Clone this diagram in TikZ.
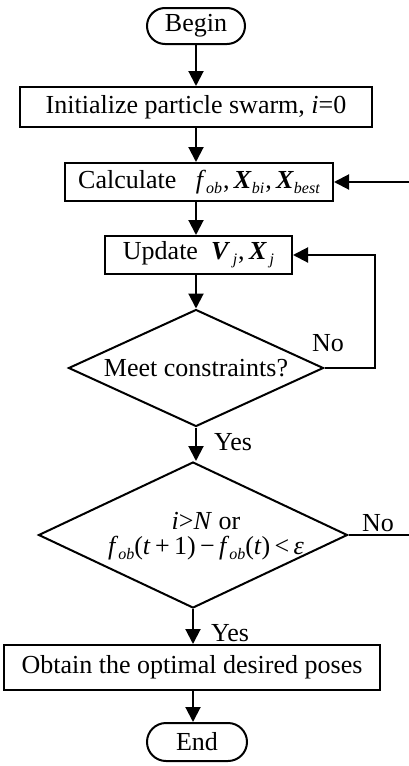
\documentclass[tikz,border=0pt]{standalone}
\usepackage{fontspec}
\setmainfont{Liberation Serif}
\usetikzlibrary{shapes.geometric,shapes.misc,arrows.meta}
\newcommand\subsc[1]{\raisebox{-5pt}{\fontsize{16}{16}\selectfont\itshape #1}}
\newcommand\bX[1]{\textbf{\textit{#1}}}
\tikzset{
  base/.style={draw=black, line width=2pt, inner sep=0pt, font=\fontsize{26}{28}\selectfont},
  term/.style={base, rounded rectangle, minimum width=98pt, minimum height=36pt},
  proc/.style={base, rectangle},
  dec/.style={base, diamond},
  txt/.style={inner sep=0pt, font=\fontsize{26}{25}\selectfont, align=center},
  arr/.style={line width=2pt, -{Triangle[length=15pt,width=15pt]}},
}
\begin{document}
\begin{tikzpicture}[x=1pt,y=-1pt]
\useasboundingbox (0,0) rectangle (408,766);
\node[term] (begin) at (196,26) {Begin};
\node[proc, minimum width=352pt, minimum height=40pt] (init) at (196,107) {Initialize particle swarm, \textit{i}=0};
\node[proc, minimum width=268pt, minimum height=38pt] (calc) at (199,182) {Calculate\ \ \ \textit{f}\subsc{ob}\kern1pt,\,\bX{X}\subsc{bi}\kern1pt,\,\bX{X}\subsc{best}};
\node[proc, minimum width=187pt, minimum height=38pt] (update) at (198.5,255) {Update\ \ \bX{V}\subsc{\,j}\kern1pt,\,\bX{X}\subsc{\,j}\hspace{14pt}};
\node[dec, minimum width=255pt, minimum height=117pt] (d1) at (196,368) {};
\node[txt] (d1t) at (196,368) {Meet constraints?};
\node[dec, minimum width=309pt, minimum height=146pt] (d2) at (193,535) {};
\node[txt] (d2t) at (206,536) {\textit{i}>\textit{N} or\\\textit{f}\subsc{ob}(\textit{t}\,+\,1)\,−\,\textit{f}\subsc{ob}(\textit{t})\,<\,\textit{ε}};
\node[proc, minimum width=376pt, minimum height=45pt] (obtain) at (192,667.5) {Obtain the optimal desired poses};
\node[term, minimum width=100pt, minimum height=38pt] (end) at (197,742) {End};
\node[txt] (no1) at (328,343) {No};
\node[txt] (yes1) at (233,442) {Yes};
\node[txt] (no2) at (378,523) {No};
\node[txt] (yes2) at (230,633) {Yes};
\draw[arr] (begin.south) -- (begin.south |- init.north);
\draw[arr] (begin.south |- init.south) -- (begin.south |- calc.north);
\draw[arr] (begin.south |- calc.south) -- (begin.south |- update.north);
\draw[arr] (begin.south |- update.south) -- (d1.north);
\draw[arr] (d1.south) -- (d1.south |- d2.north);
\draw[arr] (d1.east) -- ++(50,0) |- (update.east);
\draw[arr] (d2.east) -- ++(70,0) |- (calc.east);
\draw[arr] (d2.south) -- (d2.south |- obtain.north);
\draw[arr] (d2.south |- obtain.south) -- (d2.south |- end.north);
\end{tikzpicture}
\end{document}
